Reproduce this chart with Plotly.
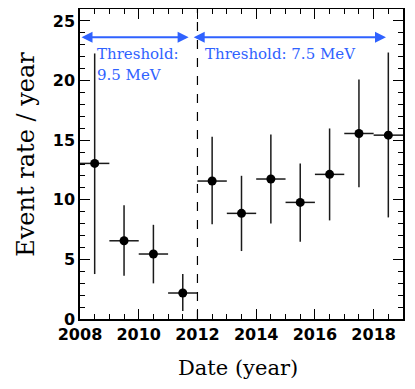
import plotly.graph_objects as go

# ---- data ----
year_center = [2008.5, 2009.5, 2010.5, 2011.5, 2012.5, 2013.5, 2014.5, 2015.5, 2016.5, 2017.5, 2018.5]
rate = [13.05, 6.56, 5.45, 2.18, 11.57, 8.86, 11.74, 9.78, 12.13, 15.56, 15.42]
err_up = [9.22, 2.97, 2.45, 1.59, 3.71, 3.15, 3.74, 3.27, 3.85, 4.53, 6.93]
err_down = [9.28, 2.93, 2.46, 1.51, 3.63, 3.16, 3.72, 3.30, 3.86, 4.52, 6.90]
bin_half = [0.5] * 11

x_ticks = [2008, 2010, 2012, 2014, 2016, 2018]
y_ticks = [0, 5, 10, 15, 20, 25]

threshold_change = 2012
label_old = ["Threshold:", "9.5 MeV"]
label_new = "Threshold: 7.5 MeV"

BLUE = "#2f62ff"
SERIF = "DejaVu Serif"

fig = go.Figure()
fig.add_trace(go.Scatter(
    x=year_center, y=rate, mode="markers",
    marker=dict(color="black", size=9),
    error_y=dict(type="data", symmetric=False, array=err_up, arrayminus=err_down,
                 color="#1a1a1a", thickness=1.5, width=0),
    error_x=dict(type="data", array=bin_half, color="#1a1a1a", thickness=1.5, width=0),
    showlegend=False,
))
# invisible trace to activate mirrored tick axes (top / right)
fig.add_trace(go.Scatter(x=[year_center[0]], y=[rate[0]], xaxis="x2", yaxis="y2",
                         mode="markers", marker=dict(opacity=0), showlegend=False,
                         hoverinfo="skip"))

fig.add_shape(type="line", x0=threshold_change, x1=threshold_change, y0=0, y1=26,
              xref="x", yref="y", line=dict(color="black", width=1.2, dash="dash"))

# arrows
arrow_y = 23.64
for (xa, xb) in [(2008.0, 2011.7), (2011.82, 2018.42)]:
    fig.add_annotation(x=xb, y=arrow_y, ax=xa, ay=arrow_y, xref="x", yref="y",
                       axref="x", ayref="y", text="", showarrow=True,
                       arrowhead=2, arrowside="end+start", arrowsize=1.1,
                       arrowwidth=2, arrowcolor=BLUE, standoff=0, startstandoff=0)

fig.add_annotation(x=2008.51, y=22.25, xref="x", yref="y", text=label_old[0],
                   showarrow=False, xanchor="left", yanchor="middle",
                   font=dict(family=SERIF, size=15, color=BLUE))
fig.add_annotation(x=2008.51, y=20.45, xref="x", yref="y", text=label_old[1],
                   showarrow=False, xanchor="left", yanchor="middle",
                   font=dict(family=SERIF, size=15, color=BLUE))
fig.add_annotation(x=2012.19, y=22.25, xref="x", yref="y", text=label_new,
                   showarrow=False, xanchor="left", yanchor="middle",
                   font=dict(family=SERIF, size=15, color=BLUE))

# axis titles
fig.add_annotation(x=-0.167, y=0.53, xref="paper", yref="paper", text="Event rate / year",
                   textangle=-90, showarrow=False, xanchor="center", yanchor="middle",
                   font=dict(family=SERIF, size=24, color="black"))
fig.add_annotation(x=0.489, y=-0.158, xref="paper", yref="paper", text="Date (year)",
                   showarrow=False, xanchor="center", yanchor="middle",
                   font=dict(family=SERIF, size=21, color="black"))

tickfont = dict(family="DejaVu Sans", size=16, color="black", weight="bold")
xcommon = dict(range=[2008, 2019], tickvals=x_ticks,
               ticks="inside", ticklen=10, tickwidth=1.2, tickcolor="black",
               minor=dict(dtick=0.5, tick0=2008, ticks="inside", ticklen=5, tickwidth=1.2, tickcolor="black"),
               showgrid=False, zeroline=False, automargin=False)
ycommon = dict(range=[0, 26], tickvals=y_ticks,
               ticks="inside", ticklen=10, tickwidth=1.2, tickcolor="black",
               minor=dict(dtick=1, tick0=0, ticks="inside", ticklen=5, tickwidth=1.2, tickcolor="black"),
               showgrid=False, zeroline=False, automargin=False)

# the page body adds an 8px offset, so the figure is sized/margined to compensate
fig.update_layout(
    xaxis=dict(**xcommon, ticktext=[str(v) for v in x_ticks], tickfont=tickfont,
               showline=True, linecolor="black", linewidth=1.5, mirror=True),
    yaxis=dict(**ycommon, ticktext=[str(v) for v in y_ticks], tickfont=tickfont,
               showline=True, linecolor="black", linewidth=1.5, mirror=True),
    xaxis2=dict(**xcommon, overlaying="x", side="top", showticklabels=False, showline=False),
    yaxis2=dict(**ycommon, overlaying="y", side="right", showticklabels=False, showline=False),
    width=407, height=381, autosize=False,
    margin=dict(l=72, r=12, t=1, b=70),
    paper_bgcolor="white", plot_bgcolor="white",
)

fig.write_html("out.html")
